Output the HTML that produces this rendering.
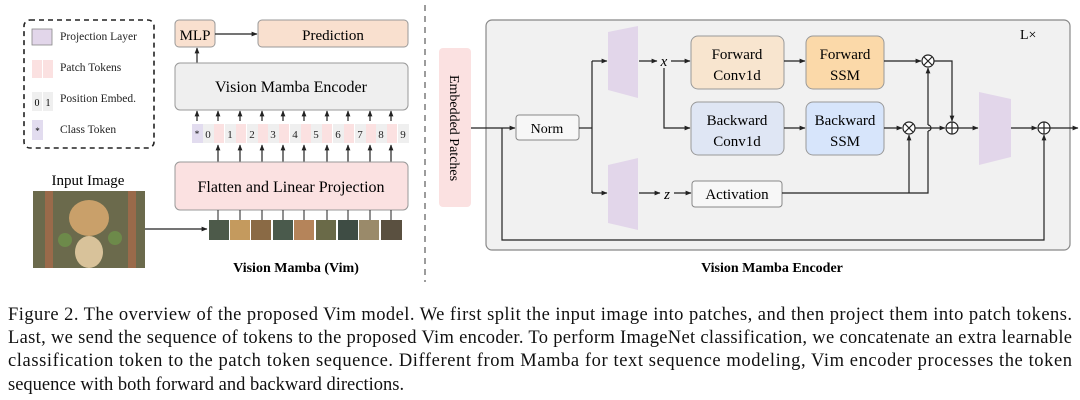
<!DOCTYPE html>
<html><head><meta charset="utf-8"><style>
html,body{margin:0;padding:0;background:#fff;}
svg{display:block;font-family:"Liberation Serif",serif;}
</style></head><body>
<svg width="1080" height="400" viewBox="0 0 1080 400" xmlns="http://www.w3.org/2000/svg">
<defs>
<marker id="a" viewBox="0 0 10 10" refX="9" refY="5" markerWidth="5" markerHeight="5" orient="auto"><path d="M0,1 L10,5 L0,9 z" fill="#222"/></marker>
</defs>
<g stroke="#222" stroke-width="1.3" fill="none">
<rect x="24" y="20" width="130" height="128" rx="6" stroke-dasharray="5,4" stroke-width="1.6"/>
</g>
<rect x="32" y="29" width="20" height="16" fill="#e2d6ea" stroke="#888" stroke-width="0.8"/>
<rect x="32" y="60" width="10" height="18" fill="#fbe1e1"/><rect x="43" y="60" width="10" height="18" fill="#fbe1e1"/>
<rect x="32" y="92" width="10" height="19" fill="#efefef"/><rect x="43" y="92" width="10" height="19" fill="#efefef"/>
<text x="37" y="106" font-size="10" text-anchor="middle">0</text><text x="48" y="106" font-size="10" text-anchor="middle">1</text>
<rect x="32" y="120" width="11" height="20" fill="#e2dcef"/><text x="37.5" y="134" font-size="9" text-anchor="middle">*</text>
<g font-size="11.5" fill="#222">
<text x="60" y="40">Projection Layer</text>
<text x="60" y="71">Patch Tokens</text>
<text x="60" y="102">Position Embed.</text>
<text x="60" y="133">Class Token</text>
</g>
<rect x="175" y="20" width="40" height="27" rx="4" fill="#f9e0cf" stroke="#999"/>
<text x="195" y="40" font-size="15" text-anchor="middle">MLP</text>
<rect x="258" y="20" width="150" height="27" rx="4" fill="#f9e0cf" stroke="#999"/>
<text x="333" y="40" font-size="15" text-anchor="middle">Prediction</text>
<line x1="215" y1="34" x2="257" y2="34" stroke="#222" stroke-width="1.2" marker-end="url(#a)"/>
<line x1="197" y1="63" x2="197" y2="48" stroke="#222" stroke-width="1.2" marker-end="url(#a)"/>
<rect x="175" y="63" width="233" height="47" rx="5" fill="#efefef" stroke="#999"/>
<text x="291" y="92" font-size="16" text-anchor="middle">Vision Mamba Encoder</text>
<rect x="192" y="124" width="11" height="19" fill="#e2dcef"/><text x="197" y="137" font-size="9" text-anchor="middle">*</text>
<g font-size="11" text-anchor="middle" fill="#222">
<rect x="203" y="124" width="11" height="19" fill="#efefef"/><text x="208" y="138">0</text>
<rect x="214" y="124" width="10" height="19" fill="#fbe1e1"/><rect x="225" y="124" width="11" height="19" fill="#efefef"/><text x="230" y="138">1</text>
<rect x="236" y="124" width="10" height="19" fill="#fbe1e1"/><rect x="247" y="124" width="11" height="19" fill="#efefef"/><text x="252" y="138">2</text>
<rect x="258" y="124" width="10" height="19" fill="#fbe1e1"/><rect x="268" y="124" width="11" height="19" fill="#efefef"/><text x="273" y="138">3</text>
<rect x="279" y="124" width="10" height="19" fill="#fbe1e1"/><rect x="290" y="124" width="11" height="19" fill="#efefef"/><text x="295" y="138">4</text>
<rect x="301" y="124" width="10" height="19" fill="#fbe1e1"/><rect x="311" y="124" width="11" height="19" fill="#efefef"/><text x="316" y="138">5</text>
<rect x="322" y="124" width="10" height="19" fill="#fbe1e1"/><rect x="333" y="124" width="11" height="19" fill="#efefef"/><text x="338" y="138">6</text>
<rect x="344" y="124" width="10" height="19" fill="#fbe1e1"/><rect x="355" y="124" width="11" height="19" fill="#efefef"/><text x="360" y="138">7</text>
<rect x="366" y="124" width="10" height="19" fill="#fbe1e1"/><rect x="376" y="124" width="11" height="19" fill="#efefef"/><text x="381" y="138">8</text>
<rect x="387" y="124" width="10" height="19" fill="#fbe1e1"/><rect x="398" y="124" width="11" height="19" fill="#efefef"/><text x="403" y="138">9</text>
</g>
<g stroke="#222" stroke-width="1.2" marker-end="url(#a)">
<line x1="197" y1="121" x2="197" y2="111"/><line x1="218" y1="121" x2="218" y2="111"/><line x1="240" y1="121" x2="240" y2="111"/><line x1="262" y1="121" x2="262" y2="111"/><line x1="283" y1="121" x2="283" y2="111"/><line x1="304" y1="121" x2="304" y2="111"/><line x1="327" y1="121" x2="327" y2="111"/><line x1="348" y1="121" x2="348" y2="111"/><line x1="370" y1="121" x2="370" y2="111"/><line x1="391" y1="121" x2="391" y2="111"/>
<line x1="218" y1="162" x2="218" y2="145"/><line x1="240" y1="162" x2="240" y2="145"/><line x1="262" y1="162" x2="262" y2="145"/><line x1="283" y1="162" x2="283" y2="145"/><line x1="304" y1="162" x2="304" y2="145"/><line x1="327" y1="162" x2="327" y2="145"/><line x1="348" y1="162" x2="348" y2="145"/><line x1="370" y1="162" x2="370" y2="145"/><line x1="391" y1="162" x2="391" y2="145"/>
</g>
<rect x="175" y="162" width="233" height="48" rx="5" fill="#fbe1e1" stroke="#999"/>
<text x="291" y="192" font-size="16" text-anchor="middle">Flatten and Linear Projection</text>
<g>
<rect x="209" y="220" width="20" height="20" fill="#4d5a4a"/><rect x="230" y="220" width="20" height="20" fill="#c49a5e"/><rect x="251" y="220" width="20" height="20" fill="#8a6a45"/><rect x="273" y="220" width="20" height="20" fill="#4a5a4c"/><rect x="294" y="220" width="20" height="20" fill="#b5845a"/><rect x="316" y="220" width="20" height="20" fill="#6a6a48"/><rect x="338" y="220" width="20" height="20" fill="#3e4c44"/><rect x="359" y="220" width="20" height="20" fill="#9a8a6a"/><rect x="381" y="220" width="21" height="20" fill="#5a5040"/>
</g>
<g stroke="#222" stroke-width="1"><line x1="218" y1="210" x2="218" y2="220"/><line x1="240" y1="210" x2="240" y2="220"/><line x1="262" y1="210" x2="262" y2="220"/><line x1="283" y1="210" x2="283" y2="220"/><line x1="304" y1="210" x2="304" y2="220"/><line x1="327" y1="210" x2="327" y2="220"/><line x1="348" y1="210" x2="348" y2="220"/><line x1="370" y1="210" x2="370" y2="220"/><line x1="391" y1="210" x2="391" y2="220"/></g>
<text x="88" y="185" font-size="15" text-anchor="middle">Input Image</text>
<rect x="33" y="191" width="112" height="77" fill="#6b6a4c"/>
<rect x="45" y="191" width="8" height="77" fill="#9a6a4a"/><rect x="128" y="191" width="8" height="77" fill="#9a6a4a"/>
<ellipse cx="89" cy="218" rx="20" ry="18" fill="#c9a06a"/><ellipse cx="89" cy="252" rx="14" ry="16" fill="#d8c29a"/>
<circle cx="65" cy="240" r="7" fill="#6d8a4a"/><circle cx="115" cy="238" r="7" fill="#6d8a4a"/>
<line x1="145" y1="229" x2="207" y2="229" stroke="#222" stroke-width="1.2" marker-end="url(#a)"/>
<text x="296" y="272" font-size="14" font-weight="bold" text-anchor="middle">Vision Mamba (Vim)</text>
<line x1="425" y1="5" x2="425" y2="282" stroke="#666" stroke-width="1.3" stroke-dasharray="6,5"/>
<!-- Right encoder -->
<rect x="486" y="20" width="584" height="230" rx="6" fill="#f1f1f1" stroke="#888" stroke-width="1.2"/>
<text x="1020" y="39" font-size="14">L×</text>
<rect x="439" y="48" width="32" height="159" rx="4" fill="#fbe1e1"/>
<text transform="translate(450,128) rotate(90)" font-size="14" text-anchor="middle">Embedded Patches</text>
<rect x="516" y="115" width="63" height="25" rx="3" fill="#f7f7f7" stroke="#888"/>
<text x="547" y="133" font-size="14" text-anchor="middle">Norm</text>
<polygon points="608,32 638,26 638,98 608,90" fill="#e2d6ea"/>
<polygon points="608,165 638,158 638,230 608,223" fill="#e2d6ea"/>
<polygon points="979,92 1011,99 1011,157 979,165" fill="#e2d6ea"/>
<rect x="691" y="36" width="93" height="53" rx="7" fill="#f8e5cf" stroke="#999"/>
<rect x="806" y="36" width="78" height="53" rx="7" fill="#fbd9a9" stroke="#999"/>
<rect x="691" y="102" width="93" height="53" rx="7" fill="#dfe6f4" stroke="#999"/>
<rect x="806" y="102" width="78" height="53" rx="7" fill="#d7e5fb" stroke="#999"/>
<rect x="692" y="181" width="90" height="26" rx="3" fill="#f7f7f7" stroke="#888"/>
<g font-size="15" text-anchor="middle">
<text x="737" y="59">Forward</text><text x="737" y="80">Conv1d</text>
<text x="845" y="59">Forward</text><text x="845" y="80">SSM</text>
<text x="737" y="125">Backward</text><text x="737" y="146">Conv1d</text>
<text x="845" y="125">Backward</text><text x="845" y="146">SSM</text>
<text x="737" y="199">Activation</text>
</g>
<text x="664" y="66" font-size="15" font-style="italic" text-anchor="middle">x</text>
<text x="667" y="199" font-size="15" font-style="italic" text-anchor="middle">z</text>
<g stroke="#222" stroke-width="1.2" fill="none">
<line x1="471" y1="128" x2="515" y2="128" marker-end="url(#a)"/>
<polyline points="502,128 502,240 1044,240 1044,135" marker-end="url(#a)"/>
<line x1="579" y1="128" x2="592" y2="128"/>
<line x1="592" y1="61" x2="592" y2="193"/>
<line x1="592" y1="61" x2="607" y2="61" marker-end="url(#a)"/>
<line x1="592" y1="193" x2="607" y2="193" marker-end="url(#a)"/>
<line x1="639" y1="61" x2="657" y2="61" marker-end="url(#a)"/>
<line x1="671" y1="61" x2="690" y2="61" marker-end="url(#a)"/>
<polyline points="664,68 664,128 690,128" marker-end="url(#a)"/>
<line x1="639" y1="193" x2="660" y2="193" marker-end="url(#a)"/>
<line x1="674" y1="193" x2="691" y2="193" marker-end="url(#a)"/>
<line x1="784" y1="61" x2="805" y2="61" marker-end="url(#a)"/>
<line x1="784" y1="128" x2="805" y2="128" marker-end="url(#a)"/>
<line x1="884" y1="61" x2="921" y2="61" marker-end="url(#a)"/>
<line x1="884" y1="128" x2="902" y2="128" marker-end="url(#a)"/>
<circle cx="928" cy="61" r="6" fill="#fff"/><path d="M924,57 L932,65 M932,57 L924,65"/>
<circle cx="909" cy="128" r="6" fill="#fff"/><path d="M905,124 L913,132 M913,124 L905,132"/>
<polyline points="782,193 928,193 928,131"/>
<path d="M928,125 A3,3 0 0 1 928,131"/>
<line x1="928" y1="125" x2="928" y2="68" marker-end="url(#a)"/>
<line x1="909" y1="193" x2="909" y2="135" marker-end="url(#a)"/>
<line x1="915" y1="128" x2="945" y2="128" marker-end="url(#a)"/>
<polyline points="934,61 952,61 952,121" marker-end="url(#a)"/>
<circle cx="952" cy="128" r="6" fill="#fff"/><path d="M946,128 L958,128 M952,122 L952,134"/>
<line x1="958" y1="128" x2="978" y2="128" marker-end="url(#a)"/>
<line x1="1011" y1="128" x2="1037" y2="128" marker-end="url(#a)"/>
<circle cx="1044" cy="128" r="6" fill="#fff"/><path d="M1038,128 L1050,128 M1044,122 L1044,134"/>
<line x1="1050" y1="128" x2="1078" y2="128" marker-end="url(#a)"/>
</g>
<text x="772" y="272" font-size="14" font-weight="bold" text-anchor="middle">Vision Mamba Encoder</text>
<g font-size="18.5" fill="#111">
<text x="8" y="320" textLength="1064" lengthAdjust="spacing">Figure 2. The overview of the proposed Vim model. We first split the input image into patches, and then project them into patch tokens.</text>
<text x="8" y="343" textLength="1064" lengthAdjust="spacing">Last, we send the sequence of tokens to the proposed Vim encoder. To perform ImageNet classification, we concatenate an extra learnable</text>
<text x="8" y="366" textLength="1064" lengthAdjust="spacing">classification token to the patch token sequence.  Different from Mamba for text sequence modeling, Vim encoder processes the token</text>
<text x="8" y="390">sequence with both forward and backward directions.</text>
</g>
</svg>
</body></html>
